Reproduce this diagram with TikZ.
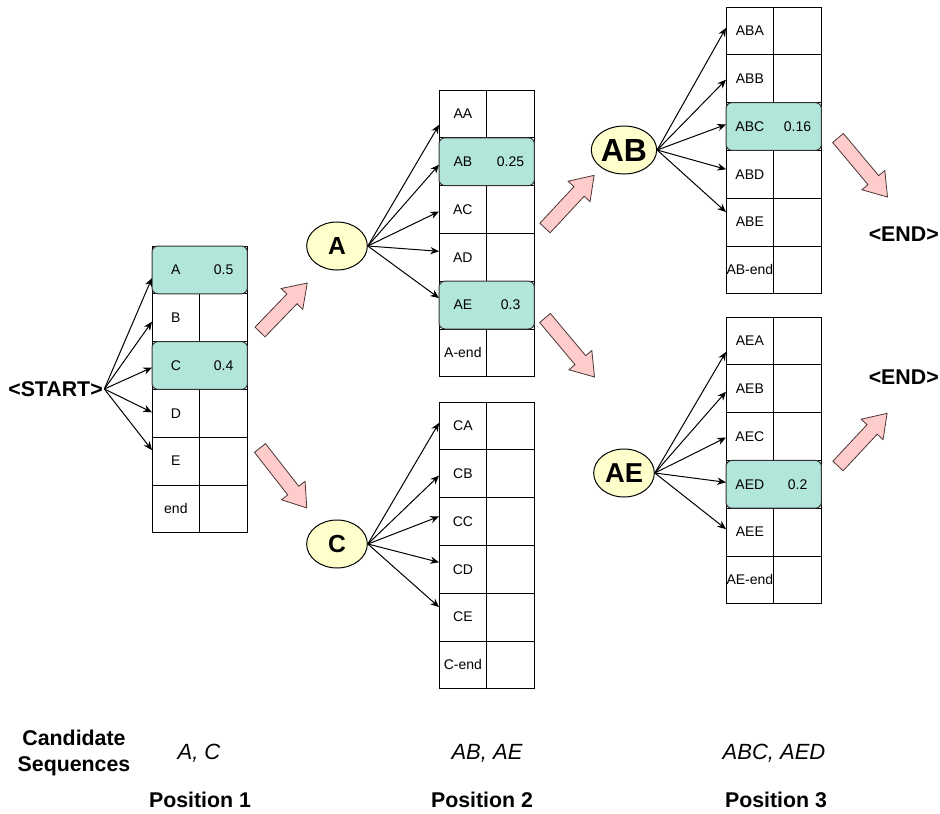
\documentclass[tikz,border=0pt]{standalone}
\usepackage{fontspec}
\setmainfont{Liberation Sans}
\usetikzlibrary{arrows.meta,fit,shapes.geometric}

\definecolor{bestfill}{HTML}{B3E6DB}
\definecolor{tokenfill}{HTML}{FFFFCC}
\definecolor{flowfill}{HTML}{FFCCCC}
\definecolor{flowline}{HTML}{4D3535}

\tikzset{
  cell/.style={draw, line width=0.75pt, anchor=north west, inner sep=0pt, outer sep=0pt,
    minimum width=35.8pt, minimum height=35.85pt},
  best/.style={draw=black!80, fill=bestfill, line width=0.75pt, rounded corners=4.5pt,
    inner sep=0pt, outer sep=0pt},
  celltxt/.style={inner sep=0pt, font=\fontsize{10.5}{12}\selectfont},
  token/.style={ellipse, draw, line width=0.75pt, fill=tokenfill, inner sep=0pt,
    minimum width=45.5pt, minimum height=36pt, font=\fontsize{18.5}{20}\selectfont\bfseries},
  bigtxt/.style={inner sep=0pt, font=\fontsize{16}{20}\selectfont\bfseries},
  seqtxt/.style={inner sep=0pt, font=\fontsize{16.5}{20}\selectfont\itshape},
  link/.style={line width=0.75pt, -{Stealth[length=6.5pt,width=5.5pt]}},
  flow/.style={draw=flowline, fill=flowfill, line width=0.6pt, line join=miter},
  pics/fatarrow/.style={code={
    \path[flow] (0,-7) -- (#1-22,-7) -- (#1-22,-15) -- (#1,0) -- (#1-22,15)
      -- (#1-22,7) -- (0,7) -- cycle;
  }}
}

% six rows of two cells; #1 name, #2 left edge, #3 top edge (px)
\newcommand{\beamcells}[3]{%
  \foreach \i in {1,...,6} {
    \node[cell] (#1l\i) at (#2, {#3+(\i-1)*47.8}) {};
    \node[cell] (#1r\i) at ({#2+47.7}, {#3+(\i-1)*47.8}) {};
  }}
% token labels in the left column
\newcommand{\beamlabels}[2]{%
  \foreach \lab [count=\i] in {#2}
    \node[celltxt] (#1t\i) at (#1l\i) {\lab};}

\begin{document}
\begin{tikzpicture}[x=0.75pt, y=-0.75pt]
\useasboundingbox (0,0) rectangle (940,814);

% ---- tables of scores ----
\beamcells{ta}{152}{246}
\beamcells{tb}{439}{90}
\beamcells{tc}{439}{402}
\beamcells{td}{726}{7}
\beamcells{te}{726}{317}

% kept candidates
\node[best, fit=(tal1)(tar1)] (tah1) {};
\node[best, fit=(tal3)(tar3)] (tah3) {};
\node[best, fit=(tbl2)(tbr2)] (tbh2) {};
\node[best, fit=(tbl5)(tbr5)] (tbh5) {};
\node[best, fit=(tdl3)(tdr3)] (tdh3) {};
\node[best, fit=(tel4)(ter4)] (teh4) {};

\beamlabels{ta}{A,B,C,D,E,end}
\beamlabels{tb}{AA,AB,AC,AD,AE,A-end}
\beamlabels{tc}{CA,CB,CC,CD,CE,C-end}
\beamlabels{td}{ABA,ABB,ABC,ABD,ABE,AB-end}
\beamlabels{te}{AEA,AEB,AEC,AED,AEE,AE-end}

\node[celltxt] (tav1) at (tar1) {0.5};
\node[celltxt] (tav3) at (tar3) {0.4};
\node[celltxt] (tbv2) at (tbr2) {0.25};
\node[celltxt] (tbv5) at (tbr5) {0.3};
\node[celltxt] (tdv3) at (tdr3) {0.16};
\node[celltxt] (tev4) at (ter4) {0.2};

% ---- prefixes ----
\node[bigtxt, anchor=east] (start) at (103,389) {<START>};
\node[token] (pA)  at (337,246) {A};
\node[token] (pC)  at (337,544) {C};
\node[token, font=\fontsize{24}{26}\selectfont\bfseries] (pAB) at (624,150) {AB};
\node[token, font=\fontsize{20.5}{22}\selectfont\bfseries] (pAE) at (624,473) {AE};
\node[bigtxt, anchor=east] (end1) at (939,234) {<END>};
\node[bigtxt, anchor=east] (end2) at (939,377) {<END>};

% ---- expansions ----
\foreach \i/\d in {1/8,2/4,3/2,4/-1,5/-11}
  \draw[link] ([xshift=1pt]start.east) -- ([yshift={-(\d)*0.75pt}]tal\i.west);
\foreach \i/\d in {1/11,2/3,3/2,4/-6,5/-7}
  \draw[link] (pA.east) -- ([yshift={-(\d)*0.75pt}]tbl\i.west);
\foreach \i/\d in {1/-3,2/2,3/-5,4/-7,5/-10}
  \draw[link] (pC.east) -- ([yshift={-(\d)*0.75pt}]tcl\i.west);
\foreach \i/\d in {1/-3,2/1,3/-2,4/-5,5/-10}
  \draw[link] (pAB.east) -- ([yshift={-(\d)*0.75pt}]tdl\i.west);
\foreach \i/\d in {1/11,2/3,3/1,4/-2,5/-3}
  \draw[link] (pAE.east) -- ([yshift={-(\d)*0.75pt}]tel\i.west);

% ---- selection steps ----
\pic[rotate=46]  (fa1) at (260,332) {fatarrow=68};
\pic[rotate=-52] (fa2) at (260,448) {fatarrow=76};
\pic[rotate=47]  (fa3) at (545,228) {fatarrow=72};
\pic[rotate=-50] (fa4) at (545,318) {fatarrow=77};
\pic[rotate=-50] (fa5) at (838,138) {fatarrow=77};
\pic[rotate=47]  (fa6) at (838,466) {fatarrow=72};

% ---- bottom captions ----
\node[bigtxt, align=center] (cand) at (74,753) {Candidate\\Sequences};
\node[seqtxt] (seq1) at (199,753) {A, C};
\node[seqtxt] (seq2) at (487,753) {AB, AE};
\node[seqtxt] (seq3) at (774,753) {ABC, AED};
\node[bigtxt] (pos1) at (200,800) {Position 1};
\node[bigtxt] (pos2) at (482,800) {Position 2};
\node[bigtxt] (pos3) at (776,800) {Position 3};
\end{tikzpicture}
\end{document}
